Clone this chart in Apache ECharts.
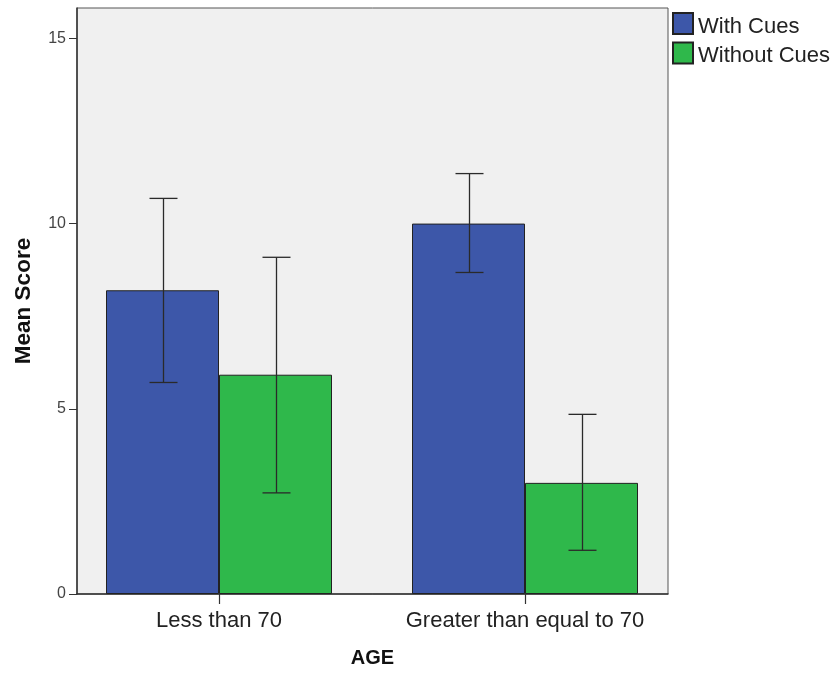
<!DOCTYPE html>
<html>
<head>
<meta charset="utf-8">
<script src="https://cdn.jsdelivr.net/npm/echarts@6/dist/echarts.min.js"></script>
<style>
  html, body { margin: 0; padding: 0; background: #ffffff; }
  #chart { width: 835px; height: 673px; }
</style>
</head>
<body>
<div id="chart"></div>
<script>
// Mean score by age group, with and without cues (error bars = interval around the mean)
const categories = ['Less than 70', 'Greater than equal to 70'];
const seriesNames = ['With Cues', 'Without Cues'];
const withCues = [8.2, 10.0];
const withoutCues = [5.92, 3.0];
const withCuesLow = [5.71, 8.68];
const withCuesHigh = [10.68, 11.35];
const withoutCuesLow = [2.73, 1.18];
const withoutCuesHigh = [9.09, 4.85];
const yTicks = [0, 5, 10, 15];
const yMax = 15.82;

const FONT = '"Liberation Sans", Arial, sans-serif';
const BAR_W = 113;
const CAP_W = 28;
const COLORS = ['#3d57a9', '#2fb84b'];

function errorData(low, high) {
  return categories.map((c, i) => [i, low[i], high[i]]);
}

function errorSeries(name, idx, low, high) {
  const dir = idx === 0 ? -1 : 1;
  return {
    type: 'custom',
    name: name,
    xAxisIndex: 1,
    yAxisIndex: 1,
    z: 5,
    silent: true,
    legendHoverLink: false,
    data: errorData(low, high),
    renderItem: function (params, api) {
      const pLow = api.coord([api.value(0), api.value(1)]);
      const pHigh = api.coord([api.value(0), api.value(2)]);
      const x = Math.round(pLow[0] + dir * BAR_W / 2) + 0.5;
      const style = { stroke: '#2a2a2a', lineWidth: 1.3, fill: null };
      return {
        type: 'group',
        children: [
          { type: 'line', shape: { x1: x, y1: pHigh[1], x2: x, y2: pLow[1] }, style: style },
          { type: 'line', shape: { x1: x - CAP_W / 2, y1: pHigh[1], x2: x + CAP_W / 2, y2: pHigh[1] }, style: style },
          { type: 'line', shape: { x1: x - CAP_W / 2, y1: pLow[1], x2: x + CAP_W / 2, y2: pLow[1] }, style: style }
        ]
      };
    }
  };
}

const chart = echarts.init(document.getElementById('chart'), null, { renderer: 'canvas' });

chart.setOption({
  animation: false,
  backgroundColor: '#ffffff',
  textStyle: { fontFamily: FONT },
  legend: {
    orient: 'vertical',
    left: 667,
    top: 7,
    itemWidth: 20,
    itemHeight: 21,
    itemGap: 4,
    icon: 'rect',
    data: seriesNames,
    formatter: '{t|{name}}',
    textStyle: {
      fontFamily: FONT, fontSize: 22, color: '#222',
      rich: { t: { fontFamily: FONT, fontSize: 22, color: '#222', padding: [6, 0, 0, 0] } }
    },
    selectedMode: false
  },
  grid: [
    // plot frame and value axis
    { left: 77, top: 8, right: 167, bottom: 79, outerBoundsMode: 'none', containLabel: false,
      show: true, backgroundColor: '#f0f0f0', borderColor: '#555', borderWidth: 1 },
    // bar placement grid
    { left: 66, top: 8, right: 157, bottom: 79, outerBoundsMode: 'none', containLabel: false }
  ],
  xAxis: [
    {
      type: 'value', gridIndex: 0, min: 0, max: 1,
      name: 'AGE', nameLocation: 'middle', nameGap: 54,
      nameTextStyle: { fontFamily: FONT, fontSize: 20, fontWeight: 'bold', color: '#111' },
      axisLine: { show: true, lineStyle: { color: '#333', width: 1.5 } },
      axisTick: { show: false }, axisLabel: { show: false }, splitLine: { show: false }
    },
    {
      type: 'category', gridIndex: 1, data: categories,
      axisLine: { show: false },
      axisTick: { show: true, interval: 0, alignWithLabel: true, length: 10, lineStyle: { color: '#333', width: 1.2 } },
      axisLabel: { interval: 0, hideOverlap: false, fontFamily: FONT, fontSize: 22, color: '#222', margin: 16 },
      splitLine: { show: false }
    }
  ],
  yAxis: [
    {
      type: 'value', gridIndex: 0, min: 0, max: yMax, interval: 5,
      name: 'Mean Score', nameLocation: 'middle', nameGap: 42, nameRotate: 90,
      nameTextStyle: { fontFamily: FONT, fontSize: 22.5, fontWeight: 'bold', color: '#111' },
      axisLine: { show: true, lineStyle: { color: '#333', width: 1.5 } },
      axisTick: { show: true, length: 8, customValues: yTicks, lineStyle: { color: '#333' } },
      axisLabel: { customValues: yTicks, fontFamily: FONT, fontSize: 16, color: '#444', margin: 11 },
      splitLine: { show: false }
    },
    {
      type: 'value', gridIndex: 1, min: 0, max: yMax, show: false, splitLine: { show: false }
    }
  ],
  series: [
    {
      type: 'bar', name: seriesNames[0], xAxisIndex: 1, yAxisIndex: 1,
      data: withCues, barWidth: BAR_W, barGap: '0%',
      itemStyle: { color: COLORS[0], borderColor: '#222', borderWidth: 1 }
    },
    {
      type: 'bar', name: seriesNames[1], xAxisIndex: 1, yAxisIndex: 1,
      data: withoutCues, barWidth: BAR_W, barGap: '0%',
      itemStyle: { color: COLORS[1], borderColor: '#222', borderWidth: 1 }
    },
    errorSeries(seriesNames[0] + ' interval', 0, withCuesLow, withCuesHigh),
    errorSeries(seriesNames[1] + ' interval', 1, withoutCuesLow, withoutCuesHigh)
  ]
});
</script>
</body>
</html>
